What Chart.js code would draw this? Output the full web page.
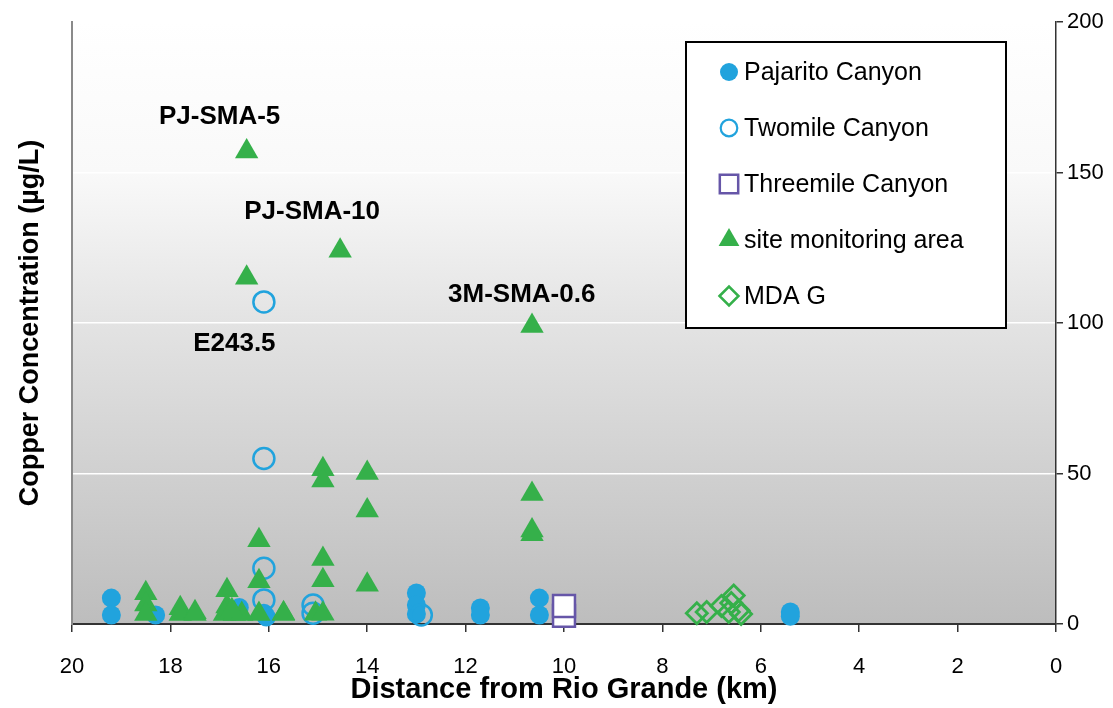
<!DOCTYPE html>
<html lang="en">
<head>
<meta charset="UTF-8">
<title>Copper Concentration vs Distance from Rio Grande</title>
<script src="https://cdn.jsdelivr.net/npm/chart.js@4.4.0/dist/chart.umd.min.js"></script>
<style>
  body { margin: 0; background: #fff; }
  canvas { display: block; }
</style>
</head>
<body>
<canvas id="chart" width="1113" height="708"></canvas>
<script>
// distance from Rio Grande (km) and copper concentration (ug/L) per series
const pajaritoX = [19.2, 19.2, 18.3, 16.6, 16.1, 16.05, 13.0, 13.0, 13.0, 11.7, 11.7, 10.5, 10.5, 5.4, 5.4];
const pajaritoY = [8.6, 3.0, 3.0, 5.5, 3.6, 2.3, 10.3, 6.3, 3.3, 5.3, 3.0, 8.6, 3.0, 4.0, 2.6];

const twomileX = [16.1, 16.1, 16.1, 16.1, 15.1, 15.1, 12.9];
const twomileY = [107, 55, 18.5, 8.0, 6.3, 3.6, 3.0];

const threemileX = [10.0, 10.0];
const threemileY = [2.7, 6.0];

const smaX = [16.45, 16.45, 14.55, 10.65, 14.9, 14.9, 14.0, 14.0, 14.9, 14.9, 14.0,
              16.2, 16.2, 16.2, 10.65, 10.65, 10.65, 18.5, 18.5, 18.5, 17.8, 17.8,
              17.5, 17.5, 16.85, 16.85, 16.9, 16.7, 16.55, 16.75, 15.7, 15.7, 15.05, 14.9];
const smaY = [157, 115, 124, 99, 51.4, 47.7, 50.2, 37.7, 21.6, 14.5, 13.0,
              27.8, 14.2, 3.3, 43.2, 31.1, 29.8, 10.2, 6.5, 3.3, 5.2, 3.3,
              3.9, 3.3, 11.2, 5.8, 3.3, 3.3, 3.3, 4.6, 3.6, 3.3, 3.4, 3.4];

const mdagX = [7.3, 7.1, 6.8, 6.55, 6.65, 6.45, 6.4, 6.6];
const mdagY = [3.6, 4.0, 6.0, 9.5, 4.0, 4.5, 3.3, 7.0];

const xTicks = [20, 18, 16, 14, 12, 10, 8, 6, 4, 2, 0];
const yTicks = [0, 50, 100, 150, 200];

// station callouts, placed in data units
const calloutText = ['PJ-SMA-5', 'PJ-SMA-10', '3M-SMA-0.6', 'E243.5'];
const calloutX = [17.0, 15.12, 10.86, 16.7];
const calloutY = [168.5, 137, 109.5, 93];

const FONT = '"Liberation Sans", Arial, Helvetica, sans-serif';
Chart.defaults.font.family = FONT;
Chart.defaults.color = '#000';

const BLUE = '#21a3dd';
const GREEN = '#35b04a';
const PURPLE = '#6656a8';

const pts = (xs, ys) => xs.map((x, i) => ({ x: x, y: ys[i] }));

const plotBackground = {
  id: 'plotBackground',
  beforeDraw(chart) {
    const { ctx, chartArea: a } = chart;
    const g = ctx.createLinearGradient(0, a.top, 0, a.bottom);
    g.addColorStop(0, '#ffffff');
    g.addColorStop(0.25, '#f9f9f9');
    g.addColorStop(0.5, '#e3e3e3');
    g.addColorStop(1, '#bdbdbd');
    ctx.save();
    ctx.fillStyle = g;
    ctx.fillRect(a.left, a.top, a.right - a.left, a.bottom - a.top);
    ctx.restore();
  }
};

const callouts = {
  id: 'callouts',
  afterDatasetsDraw(chart) {
    const { ctx, scales } = chart;
    ctx.save();
    ctx.font = 'bold 26px ' + FONT;
    ctx.textAlign = 'center';
    ctx.textBaseline = 'middle';
    ctx.fillStyle = '#000';
    calloutText.forEach((t, i) => {
      ctx.fillText(t, scales.x.getPixelForValue(calloutX[i]), scales.y.getPixelForValue(calloutY[i]));
    });
    ctx.restore();
  }
};

// boxed legend in the upper right of the plot
const legendSymbols = [
  { pointStyle: 'circle', radius: 9, fill: BLUE, stroke: BLUE, borderWidth: 0 },
  { pointStyle: 'circle', radius: 8.3, fill: null, stroke: BLUE, borderWidth: 2.2 },
  { pointStyle: 'rect', radius: 13, fill: null, stroke: PURPLE, borderWidth: 2.5 },
  { pointStyle: 'triangle', radius: 12, fill: GREEN, stroke: GREEN, borderWidth: 0 },
  { pointStyle: 'rectRot', radius: 9.5, fill: null, stroke: GREEN, borderWidth: 2.5 }
];

const boxLegend = {
  id: 'boxLegend',
  afterDraw(chart) {
    const { ctx, chartArea: a } = chart;
    const w = 320, h = 286;
    const x0 = a.right - 50 - w;
    const y0 = a.top + 20;
    ctx.save();
    ctx.fillStyle = '#fff';
    ctx.fillRect(x0, y0, w, h);
    ctx.lineWidth = 2;
    ctx.strokeStyle = '#000';
    ctx.strokeRect(x0, y0, w, h);
    ctx.font = '25px ' + FONT;
    ctx.textBaseline = 'middle';
    chart.data.datasets.forEach((ds, i) => {
      const s = legendSymbols[i];
      const cy = y0 + 30 + i * 56;
      ctx.fillStyle = s.fill || 'rgba(0,0,0,0)';
      ctx.strokeStyle = s.stroke;
      ctx.lineWidth = s.borderWidth;
      Chart.helpers.drawPoint(ctx, { pointStyle: s.pointStyle, radius: s.radius, borderWidth: s.borderWidth, rotation: 0 }, x0 + 43, cy);
      ctx.fillStyle = '#000';
      ctx.fillText(ds.label, x0 + 58, cy + 1);
    });
    ctx.restore();
  }
};

new Chart(document.getElementById('chart'), {
  type: 'scatter',
  data: {
    datasets: [
      {
        label: 'Pajarito Canyon', data: pts(pajaritoX, pajaritoY), order: 5,
        pointStyle: 'circle', pointRadius: 9.5, backgroundColor: BLUE, borderColor: BLUE, borderWidth: 0,
        clip: false, yAxisID: 'y'
      },
      {
        label: 'Twomile Canyon', data: pts(twomileX, twomileY), order: 4,
        pointStyle: 'circle', pointRadius: 10.5, backgroundColor: 'rgba(0,0,0,0)', borderColor: BLUE, borderWidth: 2.5,
        clip: false, yAxisID: 'y'
      },
      {
        label: 'Threemile Canyon', data: pts(threemileX, threemileY), order: 3,
        pointStyle: 'rect', pointRadius: 15.5, backgroundColor: '#fff', borderColor: PURPLE, borderWidth: 2.5,
        clip: false, yAxisID: 'y'
      },
      {
        label: 'site monitoring area', data: pts(smaX, smaY), order: 2,
        pointStyle: 'triangle', pointRadius: 13.5, backgroundColor: GREEN, borderColor: GREEN, borderWidth: 0,
        clip: false, yAxisID: 'y'
      },
      {
        label: 'MDA G', data: pts(mdagX, mdagY), order: 1,
        pointStyle: 'rectRot', pointRadius: 10.5, backgroundColor: 'rgba(0,0,0,0)', borderColor: GREEN, borderWidth: 2.8,
        clip: false, yAxisID: 'y'
      }
    ]
  },
  options: {
    responsive: false,
    animation: false,
    events: [],
    layout: { padding: { top: 22, right: 0, bottom: 0, left: 0 } },
    plugins: {
      legend: { display: false },
      tooltip: { enabled: false }
    },
    scales: {
      x: {
        type: 'linear', position: 'bottom', reverse: true, min: 0, max: 20,
        afterBuildTicks: s => { s.ticks = xTicks.map(v => ({ value: v })); },
        afterFit: s => { s.height = 84; },
        grid: { drawOnChartArea: false, tickLength: 8, color: '#333', lineWidth: 1.5 },
        border: { color: '#333', width: 2 },
        ticks: { font: { size: 22 }, padding: 22, maxRotation: 0, color: '#000' },
        title: {
          display: true, text: 'Distance from Rio Grande (km)', color: '#000',
          font: { size: 29, weight: 'bold' }, padding: { top: 0, bottom: 1 }
        }
      },
      y: {
        type: 'linear', position: 'right', min: 0, max: 200,
        afterBuildTicks: s => { s.ticks = yTicks.map(v => ({ value: v })); },
        afterFit: s => { s.width = 57; },
        grid: {
          color: c => (c.tick && c.tick.value > 0 && c.tick.value < 200) ? '#ffffff' : 'rgba(0,0,0,0)',
          tickColor: '#333', tickLength: 7, lineWidth: 1.5
        },
        border: { color: '#333', width: 1.5 },
        ticks: { font: { size: 22 }, padding: 4, color: '#000' }
      },
      yLeft: {
        type: 'linear', position: 'left', min: 0, max: 200,
        afterFit: s => { s.width = 72; },
        grid: { display: false },
        ticks: { display: false },
        border: { color: '#8a8a8a', width: 2 },
        title: {
          display: true, text: 'Copper Concentration (µg/L)', color: '#000',
          font: { size: 27, weight: 'bold' }, padding: { top: 14, bottom: 0 }
        }
      }
    }
  },
  plugins: [plotBackground, callouts, boxLegend]
});
</script>
</body>
</html>
